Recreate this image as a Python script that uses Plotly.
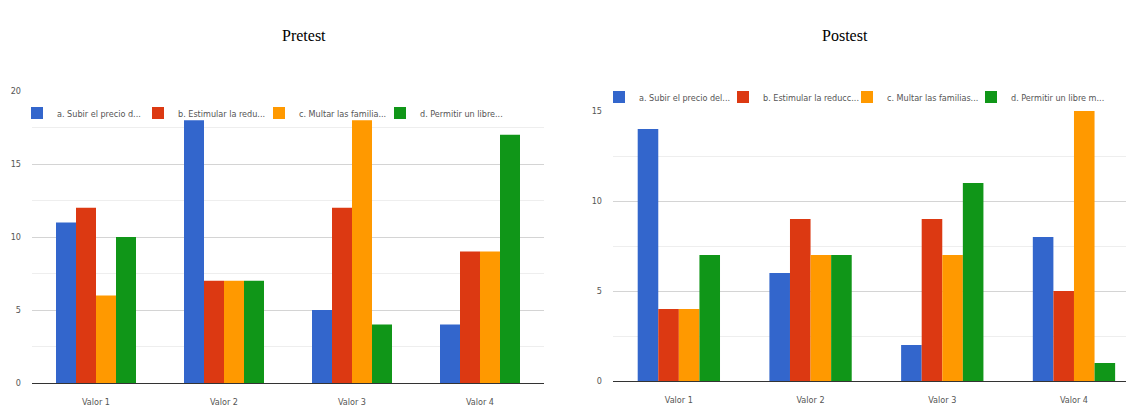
import plotly.graph_objects as go

# Answer options (legend labels, truncated as shown in each panel)
series_pre = ["a. Subir el precio d...", "b. Estimular la redu...",
              "c. Multar las familia...", "d. Permitir un libre..."]
series_post = ["a. Subir el precio del...", "b. Estimular la reducc...",
               "c. Multar las familias...", "d. Permitir un libre m..."]
categories = ["Valor 1", "Valor 2", "Valor 3", "Valor 4"]

# Counts per option, one list per option across Valor 1..4
pre_a = [11, 18, 5, 4]
pre_b = [12, 7, 12, 9]
pre_c = [6, 7, 18, 9]
pre_d = [10, 7, 4, 17]

post_a = [14, 6, 2, 8]
post_b = [4, 9, 9, 5]
post_c = [4, 7, 7, 15]
post_d = [7, 7, 11, 1]

colors = ["#3366cc", "#dc3912", "#ff9900", "#109618"]

W, H = 1126, 413
fig = go.Figure()

for name, vals, col in zip(series_pre, [pre_a, pre_b, pre_c, pre_d], colors):
    fig.add_trace(go.Bar(x=categories, y=vals, name=name, marker_color=col,
                         marker_line_width=0, xaxis="x", yaxis="y",
                         legend="legend", offsetgroup=name[:2] + "pre"))

for name, vals, col in zip(series_post, [post_a, post_b, post_c, post_d], colors):
    fig.add_trace(go.Bar(x=categories, y=vals, name=name, marker_color=col,
                         marker_line_width=0, xaxis="x2", yaxis="y2",
                         legend="legend2", offsetgroup=name[:2] + "post"))

# Empty, transparent legend spacers so the last label in each legend is not clipped
for leg, xa, ya in [("legend", "x", "y"), ("legend2", "x2", "y2")]:
    fig.add_trace(go.Bar(x=[None], y=[None], name=" ",
                         marker=dict(color="rgba(0,0,0,0)",
                                     line=dict(width=0, color="rgba(0,0,0,0)")),
                         xaxis=xa, yaxis=ya, legend=leg, showlegend=True,
                         hoverinfo="skip"))

narrow = "DejaVu Sans Condensed, Liberation Sans Narrow, Arial Narrow, Liberation Sans, Arial"
tick_font = dict(family=narrow, size=9, color="#555")
legend_font = dict(family=narrow, size=9, color="#555")

yaxis_common = dict(
    showgrid=True, gridcolor="#d4d4d4", gridwidth=1,
    minor=dict(dtick=2.5, showgrid=True, gridcolor="#eeeeee", gridwidth=1),
    zeroline=True, zerolinecolor="#333333", zerolinewidth=1,
    dtick=5, tickfont=tick_font, ticks="", ticklabelstandoff=10,
    showline=False, fixedrange=True,
)
xaxis_common = dict(
    type="category", showgrid=False, zeroline=False, showline=False,
    ticks="", tickfont=tick_font, ticklabelstandoff=12,
)

fig.update_layout(
    width=W, height=H,
    margin=dict(l=0, r=0, t=0, b=0, autoexpand=False),
    paper_bgcolor="white", plot_bgcolor="white",
    barmode="group", bargap=0.375, bargroupgap=0,
    showlegend=True,
    xaxis=dict(domain=[32 / W, 544 / W], range=[-0.5, 3.5], anchor="y", **xaxis_common),
    yaxis=dict(domain=[(H - 383) / H, (H - 91) / H], range=[0, 20], anchor="x", **yaxis_common),
    xaxis2=dict(domain=[613 / W, 1.0], range=[-0.5, 3.395], anchor="y2", **xaxis_common),
    yaxis2=dict(domain=[(H - 381) / H, (H - 111) / H], range=[0, 15], anchor="x2", **yaxis_common),
    legend=dict(orientation="h", x=17 / W, xanchor="left", y=(H - 113) / H, yanchor="middle",
                entrywidth=76, entrywidthmode="pixels", font=legend_font,
                bgcolor="rgba(0,0,0,0)", itemclick=False),
    legend2=dict(orientation="h", x=599 / W, xanchor="left", y=(H - 97) / H, yanchor="middle",
                 entrywidth=79, entrywidthmode="pixels", font=legend_font,
                 bgcolor="rgba(0,0,0,0)", itemclick=False),
    annotations=[
        dict(text="Pretest", x=280 / W, y=(H - 25) / H, xref="paper", yref="paper",
             showarrow=False, font=dict(family="Liberation Serif, Times New Roman", size=16, color="black")),
        dict(text="Postest", x=870 / W, y=(H - 25) / H, xref="paper", yref="paper",
             showarrow=False, font=dict(family="Liberation Serif, Times New Roman", size=16, color="black")),
    ],
)

fig.write_html("out.html")
